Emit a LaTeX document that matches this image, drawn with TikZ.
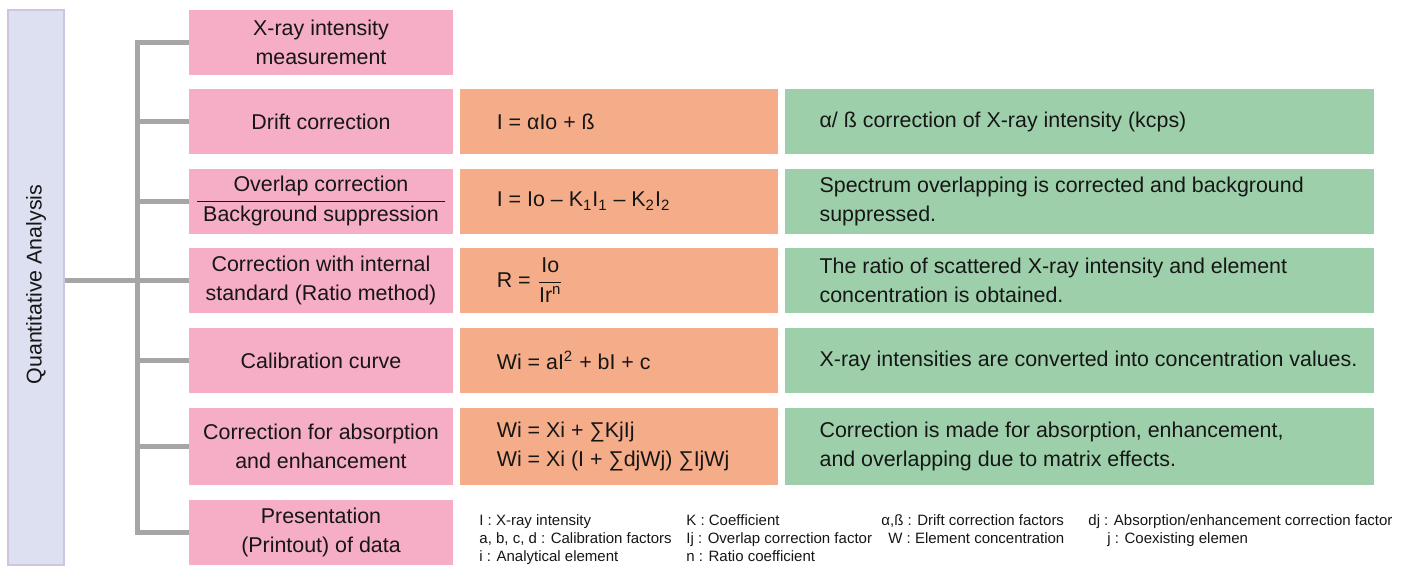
\documentclass[tikz,border=0pt]{standalone}
\usepackage{amsmath}
\usepackage{fontspec}
\setmainfont{Liberation Sans}
\usetikzlibrary{positioning, calc}
\definecolor{stepink}{HTML}{F6ADC6}
\definecolor{formorange}{HTML}{F5AC88}
\definecolor{notegreen}{HTML}{9DD0AA}
\definecolor{qafill}{HTML}{DCE0F1}
\definecolor{qaborder}{HTML}{CEC6E0}
\definecolor{linegray}{HTML}{A6A6A6}
\definecolor{textdark}{HTML}{161616}
\tikzset{
  stepbox/.style={rectangle, fill=stepink, minimum width=132pt, minimum height=32.5pt, inner sep=0pt, align=center, text=textdark},
  formbox/.style={rectangle, fill=formorange, minimum width=159pt, minimum height=32.5pt, inner sep=0pt},
  notebox/.style={rectangle, fill=notegreen, minimum width=294.5pt, minimum height=32.5pt, inner sep=0pt},
  boxtext/.style={anchor=west, align=left, inner sep=0pt, text=textdark},
  branch/.style={line width=2.5pt, draw=linegray},
}
\begin{document}
\begin{tikzpicture}[x=0.5pt, y=-0.5pt, font=\fontsize{10.7}{14.5}\selectfont,
    keytext/.style={anchor=base west, inner sep=0pt, font=\fontsize{7.5}{9}\selectfont, text=textdark}]
  \useasboundingbox (0,0) rectangle (1416,567);

  % Main block
  \node[rectangle, fill=qafill, draw=qaborder, line width=1pt, minimum width=28pt, minimum height=277.5pt] (qa) at (36,287.5) {};
  \node[rotate=90, text=textdark] (qalabel) at ($(qa.center)+(0,-3)$) {Quantitative Analysis};

  % Steps
  \node[stepbox] (s1) at (321,42.5) {X-ray intensity\\measurement};
  \node[stepbox] (s2) at (321,121.5) {Drift correction};
  \node[stepbox] (s3) at (321,201) {\begin{tabular}{@{\hspace{3pt}}c@{\hspace{3pt}}}Overlap correction\\\hline Background suppression\end{tabular}};
  \node[stepbox] (s4) at (321,280.5) {Correction with internal\\standard (Ratio method)};
  \node[stepbox] (s5) at (321,360.5) {Calibration curve};
  \node[stepbox, minimum height=38.5pt] (s6) at (321,446.5) {Correction for absorption\\and enhancement};
  \node[stepbox] (s7) at (321,532.5) {Presentation\\(Printout) of data};

  % Formula and note boxes
  \foreach \i/\h in {2/32.5,3/32.5,4/32.5,5/32.5,6/38.5} {
    \node[formbox, minimum height=\h pt, right=3pt of s\i] (f\i) {};
    \node[notebox, minimum height=\h pt, right=3pt of f\i] (n\i) {};
  }

  \node[boxtext] (ft2) at ([xshift=18.5pt]f2.west) {I = αIo + ß};
  \node[boxtext] (ft3) at ([xshift=18.5pt]f3.west) {I = Io – K\textsubscript{1}I\textsubscript{1} – K\textsubscript{2}I\textsubscript{2}};
  \node[boxtext] (ft4) at ([xshift=18.5pt]f4.west) {R = $\dfrac{\text{Io}}{\text{Ir\textsuperscript{n}}}$};
  \node[boxtext] (ft5) at ([xshift=18.5pt]f5.west) {Wi = aI\textsuperscript{2} + bI + c};
  \node[boxtext] (ft6) at ([xshift=18.5pt]f6.west) {Wi = Xi + ∑KjIj\\Wi = Xi (I + ∑djWj) ∑IjWj};

  \node[boxtext] (nt2) at ([xshift=17.5pt]n2.west) {α/ ß correction of X-ray intensity (kcps)};
  \node[boxtext] (nt3) at ([xshift=17.5pt]n3.west) {Spectrum overlapping is corrected and background\\suppressed.};
  \node[boxtext] (nt4) at ([xshift=17.5pt]n4.west) {The ratio of scattered X-ray intensity and element\\concentration is obtained.};
  \node[boxtext] (nt5) at ([xshift=17.5pt]n5.west) {X-ray intensities are converted into concentration values.};
  \node[boxtext] (nt6) at ([xshift=17.5pt]n6.west) {Correction is made for absorption, enhancement,\\and overlapping due to matrix effects.};

  % Tree lines
  \coordinate (tr) at (137,0);
  \draw[branch] (s1.west) -| (tr |- s7.west) -- (s7.west);
  \foreach \i in {2,...,6} {
    \draw[branch] (tr |- s\i.west) -- (s\i.west);
  }
  \draw[branch] (qa.east |- s4.west) -- (tr |- s4.west);

  % Key
  \foreach \x/\y/\txt [count=\k] in {479/525/{I : X-ray intensity}, 479/543/{a, b, c, d : Calibration factors}, 479/561/{i : Analytical element},
      686/525/{K : Coefficient}, 686/543/{Ij : Overlap correction factor}, 686/561/{n : Ratio coefficient},
      881/525/{α,ß : Drift correction factors}, 888/543/{W : Element concentration},
      1088/525/{dj : Absorption/enhancement correction factor}, 1107/543/{j : Coexisting elemen}} {
    \node[keytext] (key\k) at (\x,\y) {\txt};
  }
\end{tikzpicture}
\end{document}
